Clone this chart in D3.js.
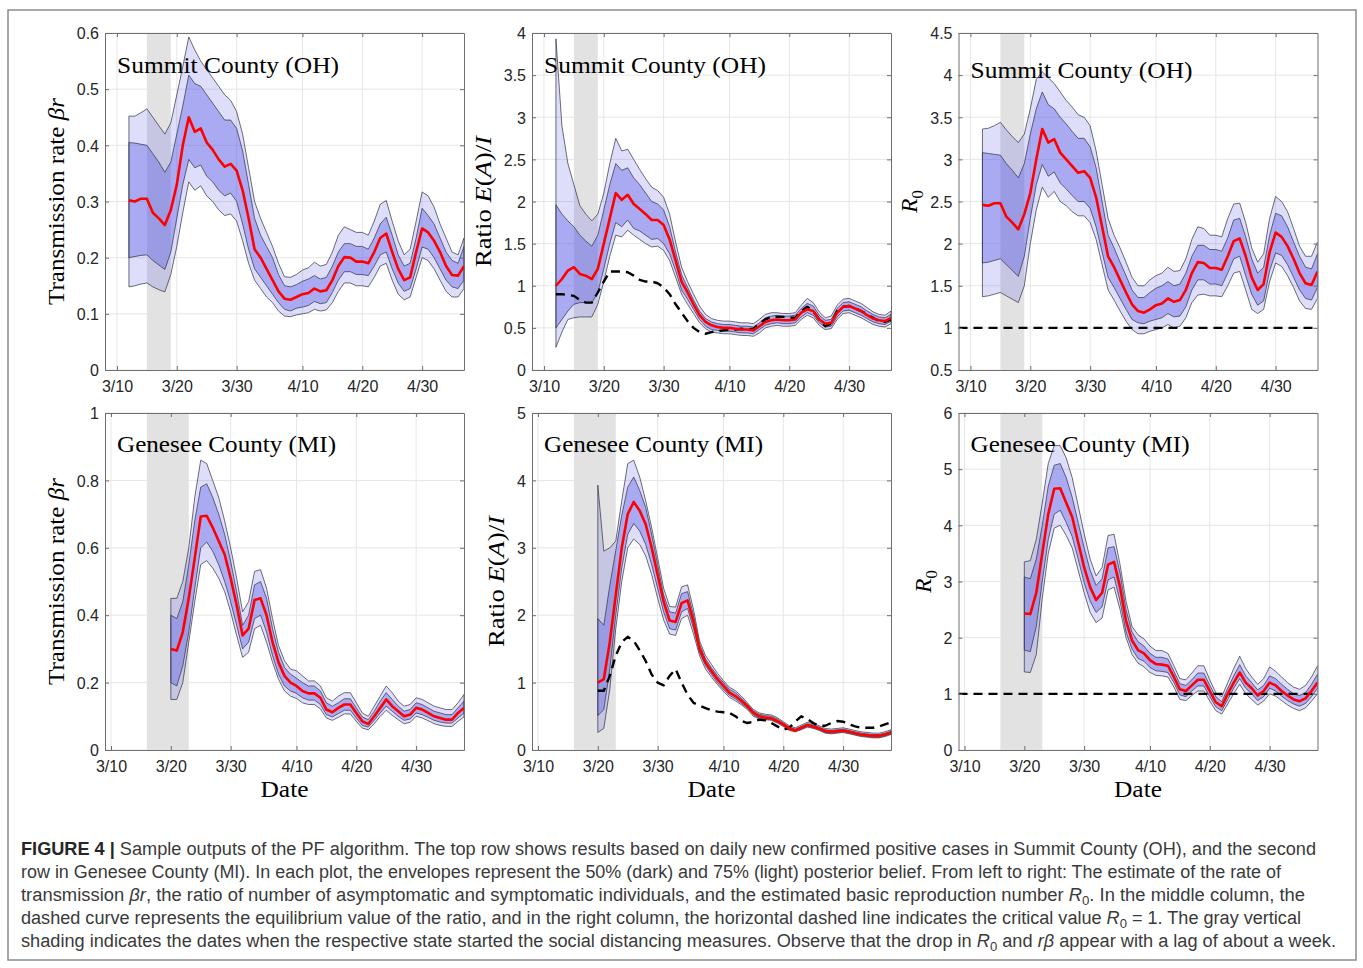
<!DOCTYPE html>
<html>
<head>
<meta charset="utf-8">
<script src="https://cdn.jsdelivr.net/npm/d3@7"></script>
<style>
  body { margin: 0; background: #fff; }
  svg { display: block; }
</style>
</head>
<body>
<svg id="fig" width="1363" height="968"></svg>
<script>
// ---------------------------------------------------------------
// Posterior estimates (daily), Summit County (OH), from 2020-03-12
// ---------------------------------------------------------------
const ohStart = "2020-03-12";

const ohBetaMed  = [.302,.300,.305,.305,.280,.270,.258,.285,.330,.400,.450,.424,.430,.405,.392,.375,.362,.367,.355,.320,.270,.215,.200,.180,.160,.140,.127,.125,.130,.135,.137,.145,.140,.142,.160,.185,.201,.200,.193,.193,.190,.210,.235,.243,.210,.180,.160,.165,.210,.252,.245,.230,.210,.185,.169,.168,.185];
const ohBetaHi50 = [.405,.404,.402,.400,.385,.370,.352,.370,.420,.470,.525,.510,.505,.490,.475,.460,.445,.445,.430,.390,.330,.270,.240,.220,.200,.170,.150,.148,.152,.158,.162,.168,.162,.165,.185,.210,.225,.225,.220,.220,.215,.235,.260,.272,.240,.205,.185,.190,.235,.288,.275,.260,.235,.210,.195,.190,.220];
const ohBetaHi75 = [.452,.452,.458,.465,.450,.435,.420,.440,.490,.540,.593,.570,.550,.535,.520,.505,.490,.480,.460,.420,.360,.300,.270,.245,.220,.190,.166,.165,.170,.178,.182,.192,.185,.188,.210,.240,.255,.250,.245,.245,.240,.265,.295,.302,.265,.230,.205,.215,.265,.317,.310,.290,.260,.235,.210,.205,.235];
const ohBetaLo50 = [.200,.202,.204,.205,.195,.187,.179,.210,.270,.330,.375,.360,.365,.345,.335,.320,.310,.315,.300,.260,.215,.180,.165,.150,.135,.120,.108,.105,.110,.112,.115,.122,.118,.120,.138,.160,.175,.175,.170,.170,.168,.185,.205,.210,.180,.155,.140,.145,.180,.219,.215,.200,.180,.160,.148,.145,.160];
const ohBetaLo75 = [.148,.150,.153,.155,.148,.143,.139,.170,.220,.280,.335,.320,.328,.310,.300,.285,.275,.278,.265,.230,.190,.160,.145,.130,.120,.105,.096,.095,.098,.100,.102,.108,.105,.107,.120,.140,.155,.155,.150,.150,.148,.165,.185,.190,.160,.135,.125,.130,.165,.200,.195,.180,.160,.140,.130,.130,.145];

const ohRatioMed  = [1.00,1.08,1.18,1.22,1.14,1.12,1.08,1.20,1.50,1.80,2.10,2.02,2.08,1.97,1.91,1.85,1.78,1.78,1.72,1.55,1.30,1.05,0.92,0.78,0.65,0.57,0.53,0.51,0.50,0.50,0.49,0.48,0.48,0.47,0.52,0.57,0.59,0.60,0.59,0.59,0.60,0.68,0.72,0.70,0.60,0.55,0.56,0.68,0.75,0.76,0.73,0.70,0.65,0.61,0.59,0.58,0.62];
const ohRatioHi50 = [1.96,1.85,1.77,1.70,1.60,1.53,1.47,1.60,1.90,2.20,2.45,2.37,2.40,2.28,2.20,2.10,2.00,1.97,1.90,1.70,1.40,1.13,0.98,0.83,0.70,0.61,0.57,0.55,0.54,0.54,0.53,0.52,0.52,0.51,0.56,0.62,0.64,0.65,0.64,0.64,0.65,0.73,0.79,0.76,0.65,0.59,0.60,0.73,0.80,0.81,0.78,0.75,0.70,0.66,0.63,0.62,0.66];
const ohRatioHi75 = [3.93,2.90,2.45,2.20,1.95,1.85,1.77,1.85,2.10,2.45,2.75,2.60,2.62,2.50,2.38,2.27,2.17,2.13,2.05,1.85,1.52,1.22,1.05,0.90,0.76,0.66,0.61,0.59,0.58,0.58,0.57,0.56,0.56,0.55,0.60,0.66,0.68,0.68,0.67,0.67,0.68,0.77,0.85,0.80,0.69,0.62,0.64,0.77,0.84,0.85,0.82,0.79,0.74,0.69,0.66,0.65,0.70];
const ohRatioLo50 = [0.50,0.60,0.70,0.78,0.80,0.80,0.80,0.92,1.20,1.50,1.75,1.70,1.78,1.68,1.65,1.60,1.55,1.56,1.50,1.38,1.18,0.95,0.84,0.72,0.60,0.52,0.48,0.47,0.46,0.46,0.45,0.44,0.44,0.43,0.48,0.53,0.55,0.56,0.55,0.55,0.56,0.63,0.68,0.65,0.56,0.51,0.52,0.63,0.70,0.71,0.68,0.65,0.61,0.57,0.55,0.54,0.58];
const ohRatioLo75 = [0.27,0.45,0.60,0.62,0.63,0.63,0.63,0.78,1.05,1.35,1.60,1.58,1.66,1.60,1.55,1.50,1.46,1.47,1.42,1.30,1.10,0.90,0.78,0.67,0.56,0.49,0.45,0.44,0.43,0.43,0.42,0.41,0.41,0.40,0.44,0.50,0.52,0.53,0.52,0.52,0.53,0.60,0.65,0.62,0.53,0.48,0.49,0.60,0.67,0.68,0.65,0.62,0.58,0.54,0.52,0.51,0.55];
const ohRatioEq   = [0.90,0.90,0.89,0.88,0.83,0.80,0.80,0.92,1.05,1.17,1.17,1.17,1.16,1.12,1.07,1.05,1.05,1.03,0.98,0.90,0.78,0.68,0.58,0.50,0.45,0.43,0.45,0.46,0.47,0.48,0.48,0.49,0.48,0.49,0.55,0.60,0.63,0.63,0.63,0.62,0.62,0.70,0.75,0.70,0.60,0.52,0.55,0.70,0.75,0.76,0.73,0.70,0.66,0.62,0.58,0.57,0.60];

const ohR0Med  = [2.46,2.45,2.48,2.48,2.32,2.25,2.17,2.35,2.60,3.00,3.36,3.20,3.24,3.08,3.00,2.92,2.84,2.86,2.78,2.55,2.20,1.85,1.72,1.57,1.42,1.28,1.20,1.18,1.22,1.27,1.29,1.35,1.31,1.33,1.45,1.65,1.78,1.77,1.71,1.71,1.69,1.85,2.03,2.06,1.85,1.60,1.45,1.52,1.90,2.13,2.08,1.97,1.82,1.65,1.53,1.51,1.67];
const ohR0Hi50 = [3.08,3.07,3.06,3.05,2.95,2.87,2.78,2.95,3.30,3.60,3.80,3.65,3.60,3.50,3.42,3.33,3.25,3.25,3.15,2.90,2.50,2.10,1.95,1.78,1.62,1.45,1.36,1.36,1.42,1.47,1.50,1.55,1.50,1.52,1.65,1.85,1.98,1.98,1.93,1.93,1.91,2.07,2.28,2.30,2.08,1.82,1.65,1.72,2.10,2.36,2.33,2.20,2.02,1.85,1.72,1.70,1.88];
const ohR0Hi75 = [3.36,3.37,3.40,3.44,3.35,3.27,3.20,3.30,3.60,3.95,4.04,3.97,3.90,3.80,3.70,3.62,3.53,3.50,3.40,3.10,2.70,2.30,2.10,1.95,1.78,1.60,1.50,1.50,1.57,1.62,1.65,1.72,1.67,1.68,1.82,2.05,2.20,2.18,2.10,2.10,2.08,2.30,2.47,2.48,2.25,1.95,1.78,1.88,2.30,2.56,2.50,2.38,2.18,1.97,1.85,1.85,2.02];
const ohR0Lo50 = [1.77,1.78,1.80,1.82,1.75,1.68,1.61,1.85,2.30,2.70,2.94,2.80,2.85,2.72,2.65,2.57,2.50,2.50,2.42,2.20,1.90,1.60,1.48,1.35,1.22,1.10,1.06,1.05,1.08,1.10,1.12,1.17,1.13,1.14,1.25,1.45,1.57,1.57,1.52,1.52,1.50,1.65,1.82,1.85,1.62,1.40,1.27,1.32,1.68,1.89,1.86,1.75,1.60,1.45,1.35,1.33,1.48];
const ohR0Lo75 = [1.37,1.38,1.40,1.42,1.38,1.34,1.30,1.50,2.00,2.40,2.67,2.55,2.62,2.50,2.45,2.38,2.33,2.33,2.25,2.05,1.75,1.45,1.33,1.20,1.08,0.98,0.93,0.93,0.96,0.98,1.00,1.04,1.00,1.02,1.12,1.30,1.39,1.40,1.38,1.38,1.37,1.50,1.65,1.67,1.45,1.22,1.17,1.22,1.55,1.77,1.73,1.62,1.48,1.32,1.23,1.22,1.35];

// ---------------------------------------------------------------
// Posterior estimates (daily), Genesee County (MI), from 2020-03-20
// ---------------------------------------------------------------
const miStart = "2020-03-20";

const miBetaMed  = [.300,.295,.350,.450,.570,.693,.695,.660,.620,.580,.510,.430,.340,.360,.445,.450,.400,.320,.260,.220,.200,.190,.175,.168,.168,.155,.120,.112,.125,.135,.135,.110,.085,.077,.100,.125,.150,.130,.115,.100,.105,.125,.120,.110,.100,.095,.090,.090,.110,.125];
const miBetaHi50 = [.400,.390,.440,.550,.680,.780,.790,.750,.700,.640,.560,.470,.370,.400,.490,.500,.450,.360,.290,.245,.225,.213,.200,.190,.190,.175,.140,.130,.140,.152,.152,.125,.098,.090,.115,.145,.170,.150,.130,.115,.120,.140,.135,.125,.115,.110,.105,.105,.125,.145];
const miBetaHi75 = [.450,.450,.500,.600,.750,.860,.850,.800,.750,.680,.600,.510,.410,.440,.530,.535,.480,.390,.310,.265,.240,.235,.220,.205,.205,.190,.155,.145,.160,.170,.170,.140,.110,.100,.130,.160,.190,.170,.145,.130,.135,.155,.150,.140,.130,.125,.120,.120,.140,.165];
const miBetaLo50 = [.200,.190,.250,.350,.480,.600,.617,.590,.550,.500,.440,.370,.300,.320,.390,.400,.350,.280,.225,.190,.175,.168,.155,.148,.148,.135,.105,.098,.108,.118,.118,.095,.073,.068,.088,.110,.130,.115,.100,.088,.092,.110,.105,.097,.088,.083,.080,.080,.095,.110];
const miBetaLo75 = [.150,.150,.200,.320,.440,.550,.562,.540,.510,.470,.410,.340,.275,.290,.360,.370,.320,.260,.210,.175,.160,.153,.140,.135,.135,.122,.095,.088,.097,.107,.107,.085,.065,.060,.078,.100,.118,.103,.090,.078,.082,.100,.095,.087,.078,.073,.070,.070,.085,.098];

const miRatioMed  = [1.00,1.05,1.60,2.30,3.00,3.50,3.68,3.55,3.35,3.00,2.60,2.20,1.92,1.90,2.18,2.22,1.90,1.50,1.30,1.17,1.05,0.95,0.85,0.80,0.73,0.65,0.55,0.50,0.48,0.47,0.43,0.38,0.32,0.29,0.33,0.37,0.35,0.32,0.28,0.27,0.28,0.29,0.27,0.25,0.23,0.22,0.21,0.21,0.23,0.26];
const miRatioHi50 = [1.95,1.85,2.44,2.96,3.48,3.90,4.05,3.85,3.60,3.20,2.75,2.30,2.05,2.03,2.32,2.35,2.00,1.57,1.35,1.22,1.10,1.00,0.90,0.85,0.77,0.68,0.58,0.53,0.51,0.50,0.46,0.40,0.34,0.31,0.35,0.39,0.37,0.34,0.30,0.29,0.30,0.31,0.29,0.27,0.25,0.24,0.23,0.23,0.25,0.28];
const miRatioHi75 = [3.93,2.95,3.00,3.10,3.70,4.25,4.30,4.05,3.70,3.30,2.85,2.40,2.13,2.12,2.42,2.45,2.08,1.62,1.40,1.27,1.14,1.03,0.93,0.88,0.80,0.70,0.60,0.55,0.53,0.52,0.48,0.42,0.36,0.33,0.37,0.41,0.39,0.36,0.32,0.31,0.32,0.33,0.31,0.29,0.27,0.26,0.25,0.25,0.27,0.30];
const miRatioLo50 = [0.51,0.60,1.20,2.00,2.70,3.20,3.36,3.25,3.05,2.75,2.40,2.05,1.80,1.78,2.05,2.10,1.80,1.45,1.25,1.12,1.00,0.90,0.81,0.76,0.69,0.62,0.52,0.47,0.46,0.45,0.41,0.36,0.30,0.28,0.31,0.35,0.33,0.30,0.26,0.25,0.26,0.27,0.25,0.23,0.21,0.20,0.19,0.19,0.21,0.24];
const miRatioLo75 = [0.26,0.32,0.90,1.80,2.50,3.00,3.13,3.05,2.88,2.60,2.25,1.93,1.72,1.70,1.95,2.00,1.72,1.40,1.20,1.08,0.97,0.87,0.78,0.73,0.67,0.60,0.50,0.46,0.45,0.44,0.40,0.35,0.29,0.27,0.30,0.34,0.32,0.29,0.25,0.24,0.25,0.26,0.24,0.22,0.20,0.19,0.18,0.18,0.20,0.23];
const miRatioEq   = [0.88,0.88,1.10,1.40,1.60,1.68,1.62,1.48,1.32,1.12,1.00,0.96,1.10,1.20,1.00,0.82,0.70,0.66,0.62,0.59,0.57,0.56,0.55,0.50,0.43,0.40,0.42,0.45,0.44,0.40,0.35,0.30,0.33,0.42,0.50,0.46,0.40,0.36,0.36,0.40,0.43,0.42,0.38,0.35,0.33,0.33,0.33,0.35,0.38,0.41];

const miR0Med  = [2.43,2.42,2.80,3.50,4.20,4.65,4.66,4.40,4.15,3.70,3.25,2.90,2.67,2.80,3.30,3.35,2.90,2.30,1.95,1.78,1.72,1.60,1.53,1.52,1.50,1.30,1.08,1.05,1.15,1.25,1.25,1.05,0.85,0.78,1.00,1.20,1.38,1.20,1.10,0.97,1.05,1.20,1.15,1.05,0.97,0.90,0.87,0.92,1.05,1.20];
const miR0Hi50 = [3.08,3.05,3.40,4.00,4.70,5.07,5.10,4.85,4.50,4.05,3.60,3.20,2.93,3.05,3.60,3.62,3.15,2.50,2.10,1.93,1.85,1.72,1.65,1.65,1.62,1.40,1.18,1.15,1.25,1.37,1.37,1.15,0.95,0.86,1.10,1.32,1.52,1.32,1.20,1.07,1.15,1.32,1.27,1.17,1.08,1.00,0.97,1.02,1.17,1.35];
const miR0Hi75 = [3.35,3.37,3.75,4.40,5.10,5.42,5.42,5.20,4.85,4.35,3.85,3.40,3.10,3.25,3.82,3.84,3.30,2.65,2.20,2.05,1.98,1.85,1.77,1.77,1.72,1.50,1.27,1.25,1.37,1.50,1.50,1.25,1.02,0.95,1.20,1.45,1.67,1.45,1.30,1.17,1.27,1.48,1.40,1.30,1.20,1.12,1.08,1.15,1.30,1.50];
const miR0Lo50 = [1.78,1.75,2.20,3.00,3.75,4.20,4.27,4.05,3.80,3.40,2.98,2.65,2.45,2.55,3.03,3.08,2.65,2.10,1.80,1.63,1.58,1.47,1.41,1.40,1.38,1.20,0.98,0.95,1.05,1.14,1.14,0.95,0.77,0.70,0.90,1.10,1.27,1.10,1.00,0.88,0.95,1.10,1.05,0.96,0.88,0.82,0.78,0.83,0.95,1.10];
const miR0Lo75 = [1.39,1.38,1.70,2.70,3.50,3.95,4.00,3.82,3.60,3.20,2.80,2.45,2.27,2.35,2.85,2.90,2.50,2.00,1.70,1.55,1.48,1.38,1.33,1.32,1.30,1.12,0.90,0.88,0.97,1.05,1.05,0.87,0.70,0.64,0.82,1.00,1.17,1.00,0.90,0.80,0.87,1.00,0.96,0.88,0.80,0.74,0.70,0.75,0.87,1.00];

// ---------------------------------------------------------------
// Axis settings, shading periods and text
// ---------------------------------------------------------------
const ohXDomain = ["2020-03-08", "2020-05-07"];
const miXDomain = ["2020-03-09", "2020-05-08"];
const dateTicks = ["2020-03-10", "2020-03-20", "2020-03-30", "2020-04-10", "2020-04-20", "2020-04-30"];
const ohShade = ["2020-03-15", "2020-03-19"];
const miShade = ["2020-03-16", "2020-03-23"];

const ohBetaTicks  = [0, 0.1, 0.2, 0.3, 0.4, 0.5, 0.6];
const ohRatioTicks = [0, 0.5, 1, 1.5, 2, 2.5, 3, 3.5, 4];
const ohR0Ticks    = [0.5, 1, 1.5, 2, 2.5, 3, 3.5, 4, 4.5];
const miBetaTicks  = [0, 0.2, 0.4, 0.6, 0.8, 1];
const miRatioTicks = [0, 1, 2, 3, 4, 5];
const miR0Ticks    = [0, 1, 2, 3, 4, 5, 6];

const countyNames = ["Summit County (OH)", "Genesee County (MI)"];
const criticalR0 = 1;

const captionLines = [
  [["FIGURE 4 | ", "b"], ["Sample outputs of the PF algorithm. The top row shows results based on daily new confirmed positive cases in Summit County (OH), and the second", ""]],
  [["row in Genesee County (MI). In each plot, the envelopes represent the 50% (dark) and 75% (light) posterior belief. From left to right: The estimate of the rate of", ""]],
  [["transmission ", ""], ["βr", "i"], [", the ratio of number of asymptomatic and symptomatic individuals, and the estimated basic reproduction number ", ""], ["R", "i"], ["0", "sub"], [". In the middle column, the", ""]],
  [["dashed curve represents the equilibrium value of the ratio, and in the right column, the horizontal dashed line indicates the critical value ", ""], ["R", "i"], ["0", "sub"], [" = 1. The gray vertical", ""]],
  [["shading indicates the dates when the respective state started the social distancing measures. Observe that the drop in ", ""], ["R", "i"], ["0", "sub"], [" and ", ""], ["rβ", "i"], [" appear with a lag of about a week.", ""]]
];
const captionWidths = [1295, 1260, 1284, 1280, 1315];

// ---------------------------------------------------------------
// Layout
// ---------------------------------------------------------------
const W = 359, H = 337;
const colLeft = [105, 532, 958.5];
const rowTop = [33, 413];
const SERIF = "'Liberation Serif', 'DejaVu Serif', serif";
const SANS = "'Liberation Sans', Arimo, Arial, sans-serif";

const parse = d3.utcParse("%Y-%m-%d");
const svg = d3.select("#fig");

// outer frame
svg.append("rect")
  .attr("x", 8).attr("y", 10).attr("width", 1348).attr("height", 950)
  .attr("fill", "none").attr("stroke", "#8c8c8c").attr("stroke-width", 1.5);

function rich(sel, parts, subShift) {
  parts.forEach(([t, s]) => {
    const ts = sel.append("tspan").text(t);
    if (s === "i") ts.attr("font-style", "italic");
    if (s === "b") ts.attr("font-weight", "bold");
    if (s === "sub") ts.attr("font-size", "72%").attr("dy", subShift);
  });
}

const panels = [
  { col: 0, row: 0, start: ohStart, xd: ohXDomain, yd: [0, 0.6], ticks: ohBetaTicks, shade: ohShade,
    med: ohBetaMed, lo50: ohBetaLo50, hi50: ohBetaHi50, lo75: ohBetaLo75, hi75: ohBetaHi75,
    title: countyNames[0], titleLen: 222, titleDy: 40, ylabel: "beta" },
  { col: 1, row: 0, start: ohStart, xd: ohXDomain, yd: [0, 4], ticks: ohRatioTicks, shade: ohShade,
    med: ohRatioMed, lo50: ohRatioLo50, hi50: ohRatioHi50, lo75: ohRatioLo75, hi75: ohRatioHi75, eq: ohRatioEq,
    title: countyNames[0], titleLen: 222, titleDy: 40, ylabel: "ratio" },
  { col: 2, row: 0, start: ohStart, xd: ohXDomain, yd: [0.5, 4.5], ticks: ohR0Ticks, shade: ohShade,
    med: ohR0Med, lo50: ohR0Lo50, hi50: ohR0Hi50, lo75: ohR0Lo75, hi75: ohR0Hi75, ref: criticalR0,
    title: countyNames[0], titleLen: 222, titleDy: 45, ylabel: "r0" },
  { col: 0, row: 1, start: miStart, xd: miXDomain, yd: [0, 1], ticks: miBetaTicks, shade: miShade,
    med: miBetaMed, lo50: miBetaLo50, hi50: miBetaHi50, lo75: miBetaLo75, hi75: miBetaHi75,
    title: countyNames[1], titleLen: 219, titleDy: 39, ylabel: "beta", xlabel: true },
  { col: 1, row: 1, start: miStart, xd: miXDomain, yd: [0, 5], ticks: miRatioTicks, shade: miShade,
    med: miRatioMed, lo50: miRatioLo50, hi50: miRatioHi50, lo75: miRatioLo75, hi75: miRatioHi75, eq: miRatioEq,
    title: countyNames[1], titleLen: 219, titleDy: 39, ylabel: "ratio", xlabel: true },
  { col: 2, row: 1, start: miStart, xd: miXDomain, yd: [0, 6], ticks: miR0Ticks, shade: miShade,
    med: miR0Med, lo50: miR0Lo50, hi50: miR0Hi50, lo75: miR0Lo75, hi75: miR0Hi75, ref: criticalR0,
    title: countyNames[1], titleLen: 219, titleDy: 39, ylabel: "r0", xlabel: true }
];

const ylabelParts = {
  beta:  { parts: [["Transmission rate ", ""], ["βr", "i"]], len: 207 },
  ratio: { parts: [["Ratio ", ""], ["E", "i"], ["(", ""], ["A", "i"], [")/", ""], ["I", "i"]], len: 131 },
  r0:    { parts: [["R", "i"], ["0", "sub"]], len: null }
};

const BAND = "rgb(88,88,228)";
const EDGE = "#2e2e44";

panels.forEach((p, idx) => {
  const left = colLeft[p.col], top = rowTop[p.row];
  const g = svg.append("g").attr("transform", `translate(${left},${top})`);
  const x = d3.scaleUtc().domain(p.xd.map(parse)).range([0, W]);
  const y = d3.scaleLinear().domain(p.yd).range([H, 0]);
  const xt = dateTicks.map(parse);

  // clip to the axes box
  const cid = "clip" + idx;
  g.append("clipPath").attr("id", cid).append("rect").attr("width", W).attr("height", H);

  // grid
  const grid = g.append("g").attr("stroke", "#e6e6e6").attr("stroke-width", 1);
  grid.selectAll(".gx").data(xt).join("line")
    .attr("x1", d => x(d)).attr("x2", d => x(d)).attr("y1", 0).attr("y2", H);
  grid.selectAll(".gy").data(p.ticks).join("line")
    .attr("y1", d => y(d)).attr("y2", d => y(d)).attr("x1", 0).attr("x2", W);

  const plot = g.append("g").attr("clip-path", `url(#${cid})`);

  // social distancing period
  plot.append("rect")
    .attr("x", x(parse(p.shade[0]))).attr("y", 0)
    .attr("width", x(parse(p.shade[1])) - x(parse(p.shade[0]))).attr("height", H)
    .attr("fill", "#e2e2e2");

  const s0 = parse(p.start);
  const rows = p.med.map((m, i) => ({
    d: d3.utcDay.offset(s0, i), med: m,
    lo50: p.lo50[i], hi50: p.hi50[i], lo75: p.lo75[i], hi75: p.hi75[i],
    eq: p.eq ? p.eq[i] : null
  }));

  const a75 = d3.area().x(r => x(r.d)).y0(r => y(r.lo75)).y1(r => y(r.hi75));
  const a50 = d3.area().x(r => x(r.d)).y0(r => y(r.lo50)).y1(r => y(r.hi50));
  plot.append("path").attr("d", a75(rows))
    .attr("fill", BAND).attr("fill-opacity", 0.2)
    .attr("stroke", EDGE).attr("stroke-width", 0.7).attr("stroke-linejoin", "round");
  plot.append("path").attr("d", a50(rows))
    .attr("fill", BAND).attr("fill-opacity", 0.38)
    .attr("stroke", EDGE).attr("stroke-width", 0.7).attr("stroke-linejoin", "round");

  if (p.ref !== undefined) {
    plot.append("line")
      .attr("x1", 0).attr("x2", W).attr("y1", y(p.ref)).attr("y2", y(p.ref))
      .attr("stroke", "#000").attr("stroke-width", 2.4).attr("stroke-dasharray", "9,6");
  }
  if (p.eq) {
    plot.append("path")
      .attr("d", d3.line().x(r => x(r.d)).y(r => y(r.eq))(rows))
      .attr("fill", "none").attr("stroke", "#000").attr("stroke-width", 2.4)
      .attr("stroke-dasharray", "9,6").attr("stroke-linejoin", "round");
  }
  plot.append("path")
    .attr("d", d3.line().x(r => x(r.d)).y(r => y(r.med))(rows))
    .attr("fill", "none").attr("stroke", "#f00").attr("stroke-width", 2.6)
    .attr("stroke-linejoin", "round");

  // axes (ticks pointing inward on all four sides)
  const fmtY = d3.format("~g");
  const axB = g.append("g").attr("transform", `translate(0,${H})`)
    .call(d3.axisBottom(x).tickValues(xt).tickFormat(d3.utcFormat("%-m/%-d"))
      .tickSizeInner(-4).tickSizeOuter(0).tickPadding(11));
  const axL = g.append("g")
    .call(d3.axisLeft(y).tickValues(p.ticks).tickFormat(fmtY)
      .tickSizeInner(-4).tickSizeOuter(0).tickPadding(6));
  const axT = g.append("g")
    .call(d3.axisTop(x).tickValues(xt).tickFormat("").tickSizeInner(-4).tickSizeOuter(0));
  const axR = g.append("g").attr("transform", `translate(${W},0)`)
    .call(d3.axisRight(y).tickValues(p.ticks).tickFormat("").tickSizeInner(-4).tickSizeOuter(0));
  [axB, axL, axT, axR].forEach(a => {
    a.select(".domain").attr("stroke", "#6e6e6e").attr("stroke-width", 1);
    a.selectAll(".tick line").attr("stroke", "#6e6e6e");
    a.selectAll("text").attr("font-family", SANS).attr("font-size", 16).attr("fill", "#262626");
  });
  axL.selectAll("text").attr("dy", "0.36em");

  // county title
  g.append("text")
    .attr("x", 12).attr("y", p.titleDy)
    .attr("font-family", SERIF).attr("font-size", 23).attr("fill", "#000")
    .attr("textLength", p.titleLen).attr("lengthAdjust", "spacingAndGlyphs")
    .text(p.title);

  // y label, placed just left of the tick labels
  const lb = axL.node().getBBox();
  const yl = ylabelParts[p.ylabel];
  const lx = lb.x - 13;
  const yt = g.append("text")
    .attr("transform", `translate(${lx},${H / 2}) rotate(-90)`)
    .attr("text-anchor", "middle")
    .attr("font-family", SERIF).attr("font-size", 23).attr("fill", "#000");
  if (yl.len) yt.attr("textLength", yl.len).attr("lengthAdjust", "spacingAndGlyphs");
  rich(yt, yl.parts, 6);

  if (p.xlabel) {
    g.append("text")
      .attr("x", W / 2).attr("y", H + 47)
      .attr("text-anchor", "middle")
      .attr("font-family", SERIF).attr("font-size", 23).attr("fill", "#000")
      .attr("textLength", 48).attr("lengthAdjust", "spacingAndGlyphs")
      .text("Date");
  }
});

// caption: condensed sans, each line fitted to its measured width
const cap = svg.append("g");
captionLines.forEach((parts, i) => {
  const t = cap.append("text")
    .attr("x", 21).attr("y", 855 + i * 23)
    .attr("font-family", SANS).attr("font-size", 18).attr("fill", "#3a3a3a")
    .attr("textLength", captionWidths[i]).attr("lengthAdjust", "spacingAndGlyphs");
  let shifted = false;
  parts.forEach(([txt, s]) => {
    const ts = t.append("tspan").text(txt);
    if (s === "b") ts.attr("font-weight", "bold").attr("fill", "#262626");
    if (s === "i") ts.attr("font-style", "italic");
    if (s === "sub") { ts.attr("font-size", 13).attr("dy", 4); shifted = true; }
    else if (shifted) { ts.attr("dy", -4); shifted = false; }
  });
});
</script>
</body>
</html>
